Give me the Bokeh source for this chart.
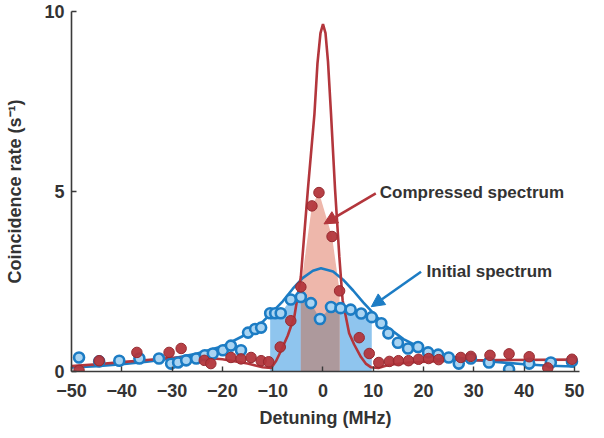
import numpy as np
from bokeh.plotting import figure
from bokeh.models import Range1d, FixedTicker, Arrow, NormalHead
from bokeh.core.properties import value
from bokeh.embed import file_html
from bokeh.resources import INLINE

# ---------------- data ----------------
x_ticks = [-50, -40, -30, -20, -10, 0, 10, 20, 30, 40, 50]
y_ticks = [0, 5, 10]

# initial (broad) spectrum: measured points
blue_x = [-48.5, -44.5, -40.5, -36.5, -32.6, -30.2, -28.8, -27.2, -25.2, -23.5, -21.9,
          -19.9, -18.3, -16.3, -14.9, -13.5, -12.3, -10.5, -9.5, -8.4, -6.4, -4.4, -2.4,
          -0.6, 1.6, 3.5, 5.5, 7.6, 9.7, 11.6, 13.0, 14.9, 16.9, 18.9, 20.9, 22.9, 25.0,
          27.0, 29.4, 33.0, 37.0, 41.0, 45.3, 49.5]
blue_y = [0.39, 0.28, 0.30, 0.36, 0.36, 0.22, 0.25, 0.31, 0.36, 0.45, 0.50,
          0.59, 0.72, 0.59, 1.08, 1.18, 1.22, 1.62, 1.62, 1.62, 2.00, 2.07, 1.90,
          1.46, 1.79, 1.76, 1.72, 1.61, 1.51, 1.34, 1.06, 0.80, 0.64, 0.68, 0.53, 0.47, 0.39,
          0.22, 0.36, 0.25, 0.06, 0.22, 0.25, 0.28]

# compressed spectrum: measured points
red_x = [-48.5, -44.5, -37.0, -30.6, -28.2, -23.6, -22.3, -18.3, -16.3, -14.3, -12.3,
         -10.8, -8.5, -6.4, -4.4, -2.2, -0.8, 1.8, 3.3, 7.2, 9.2, 11.1, 13.2, 15.0, 17.0,
         19.0, 21.0, 23.0, 27.4, 29.4, 33.2, 37.0, 41.0, 44.7, 49.5]
red_y = [0.03, 0.30, 0.53, 0.53, 0.64, 0.31, 0.22, 0.39, 0.35, 0.39, 0.30,
         0.27, 0.68, 1.41, 2.35, 4.60, 4.97, 3.75, 2.24, 0.94, 0.50, 0.25, 0.28, 0.30, 0.30,
         0.34, 0.36, 0.33, 0.39, 0.42, 0.45, 0.49, 0.41, 0.10, 0.34]

# fitted curves
blue_fit_x = [-50, -45, -40, -35, -30, -25, -20, -16, -12, -8, -6, -4, -2, -0.4,
              2, 4, 6, 8, 10, 12, 16, 20, 25, 30, 35, 40, 45, 50]
blue_fit_y = [0.11, 0.15, 0.20, 0.27, 0.36, 0.50, 0.70, 0.98, 1.38, 1.95, 2.30, 2.60, 2.80, 2.87,
              2.78, 2.55, 2.25, 1.92, 1.62, 1.32, 0.90, 0.62, 0.42, 0.32, 0.26, 0.20, 0.16, 0.14]

red_fit_x = [-50, -45, -40, -35, -30, -25, -20, -15, -12, -10.3, -9.3, -8.3, -7.0, -5.7,
             -4.4, -3.0, -1.7, -1.1, -0.5, 0.0, 0.5, 1.0, 1.6, 2.4, 3.25, 3.9, 5.2, 6.2,
             7.55, 8.5, 9.5, 11, 13, 17, 25, 35, 50]
red_fit_y = [0.15, 0.20, 0.26, 0.32, 0.38, 0.40, 0.34, 0.22, 0.12, 0.10, 0.30, 0.59, 1.00, 1.52,
             2.63, 5.06, 7.15, 8.55, 9.40, 9.65, 9.40, 8.60, 7.15, 5.06, 3.19, 1.98, 1.06, 0.75,
             0.40, 0.22, 0.12, 0.10, 0.18, 0.25, 0.30, 0.32, 0.33]

# shaded windows
blue_window = (-10.5, 9.7)
red_window = (-4.4, 3.3)

# annotations
ann_compressed = dict(text="Compressed spectrum", tx=11.3, ty=4.97, x0=10.5, y0=4.95, x1=0.2, y1=4.1)
ann_initial = dict(text="Initial spectrum", tx=20.6, ty=2.77, x0=19.5, y0=2.77, x1=9.6, y1=1.8)

# ---------------- styling ----------------
RED = "#b3363c"
RED_DARK = "#962a30"
BLUE = "#1c7cc4"
BLUE_FILL = "#8fc5ee"
PINK_FILL = "#eeb7ab"
OVERLAP = "#ad999c"
TXT = "#333333"
FONT = "Liberation Sans"

p = figure(width=588, height=430, output_backend="svg", toolbar_location=None,
           x_range=Range1d(-50, 51), y_range=Range1d(0, 10.0),
           min_border_left=71, min_border_right=9, min_border_top=11, min_border_bottom=59)
p.outline_line_color = None
p.xgrid.visible = False
p.ygrid.visible = False
p.background_fill_color = "white"

# fills
bx = np.array(blue_x); by = np.array(blue_y)
rx = np.array(red_x); ry = np.array(red_y)
mb = (bx >= blue_window[0]) & (bx <= blue_window[1])
px_b = np.concatenate([[bx[mb][0]], bx[mb], [bx[mb][-1]]])
py_b = np.concatenate([[0], by[mb], [0]])
p.patch(px_b, py_b, fill_color=BLUE_FILL, line_color=None)

mr = (rx >= red_window[0]) & (rx <= red_window[1])
px_r = np.concatenate([[rx[mr][0]], rx[mr], [rx[mr][-1]]])
py_r = np.concatenate([[0], ry[mr], [0]])
p.patch(px_r, py_r, fill_color=PINK_FILL, line_color=None)

g = np.linspace(rx[mr][0], rx[mr][-1], 120)
ov = np.minimum(np.interp(g, bx, by), np.interp(g, rx, ry))
p.patch(np.concatenate([[g[0]], g, [g[-1]]]), np.concatenate([[0], ov, [0]]),
        fill_color=OVERLAP, line_color=None)

# fit lines
p.line(blue_fit_x, blue_fit_y, line_color=BLUE, line_width=2.6)
p.line(red_fit_x, red_fit_y, line_color=RED, line_width=2.6)

# data points
p.scatter(blue_x, blue_y, size=10, marker="circle", fill_color="#a9d4f2",
          line_color=BLUE, line_width=2.6)
p.scatter(red_x, red_y, size=10.5, marker="circle", fill_color=RED, line_color=RED_DARK,
          line_width=1, fill_alpha=0.95)

# annotations
for a, col in ((ann_compressed, RED), (ann_initial, BLUE)):
    p.add_layout(Arrow(end=NormalHead(size=13, fill_color=col, line_color=col),
                       x_start=a["x0"], y_start=a["y0"], x_end=a["x1"], y_end=a["y1"],
                       line_color=col, line_width=2.6))
    p.text(x=[a["tx"]], y=[a["ty"]], text=[a["text"]], text_font=value(FONT),
           text_font_size="17px", text_font_style="bold", text_color=TXT,
           text_baseline="middle", text_align="left")

# axes
for ax in (p.xaxis[0], p.yaxis[0]):
    ax.axis_line_color = "#3a3a3a"
    ax.axis_line_width = 1.6
    ax.major_tick_line_color = "#3a3a3a"
    ax.major_tick_line_width = 1.4
    ax.major_tick_in = 5
    ax.major_tick_out = 0
    ax.minor_tick_line_color = None
    ax.major_label_text_font = FONT
    ax.major_label_text_font_style = "bold"
    ax.major_label_text_font_size = "18px"
    ax.major_label_text_color = TXT
    ax.axis_label_text_font = FONT
    ax.axis_label_text_font_style = "bold"
    ax.axis_label_text_font_size = "18px"
    ax.axis_label_text_color = TXT

p.xaxis.ticker = FixedTicker(ticks=x_ticks)
p.yaxis.ticker = FixedTicker(ticks=y_ticks)
p.xaxis.axis_label = "Detuning (MHz)"
p.yaxis.axis_label = "Coincidence rate (s\u207b\u00b9)"
p.xaxis.major_label_standoff = 12
p.xaxis.axis_label_standoff = 8
p.yaxis.major_label_standoff = 7
p.yaxis.axis_label_standoff = 16

open("out.html", "w").write(file_html(p, INLINE))
